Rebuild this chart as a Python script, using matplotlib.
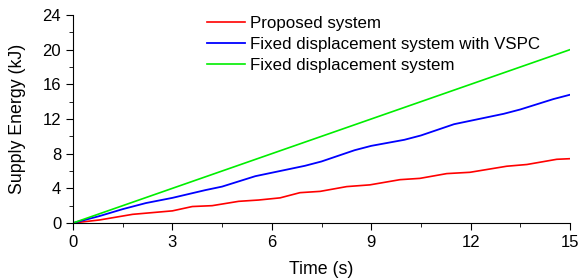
import matplotlib
matplotlib.use("Agg")
import matplotlib.pyplot as plt
from matplotlib.ticker import MultipleLocator

plt.rcParams['font.family'] = ['Liberation Sans', 'DejaVu Sans']

# Proposed system
t_prop = [0, 0.8, 1.8, 3.0, 3.6, 4.2, 5.0, 5.6, 6.25, 6.85, 7.46, 8.26, 8.96,
          9.87, 10.47, 11.28, 11.98, 13.09, 13.7, 14.6, 15]
e_prop = [0, 0.35, 1.0, 1.4, 1.9, 2.0, 2.5, 2.65, 2.9, 3.5, 3.65, 4.2, 4.4,
          5.0, 5.15, 5.7, 5.85, 6.55, 6.75, 7.35, 7.42]

# Fixed displacement system with VSPC
t_vspc = [0, 0.8, 1.5, 2.2, 3.0, 4.0, 4.5, 5.5, 6.0, 7.0, 7.5, 8.5, 9.0,
          10.0, 10.5, 11.5, 12.0, 13.0, 13.5, 14.5, 15]
e_vspc = [0, 0.8, 1.6, 2.3, 2.9, 3.8, 4.2, 5.4, 5.8, 6.6, 7.1, 8.4, 8.9,
          9.6, 10.1, 11.4, 11.8, 12.6, 13.1, 14.3, 14.8]

# Fixed displacement system
t_fixed = [0, 15]
e_fixed = [0, 20]

fig = plt.figure(figsize=(5.79, 2.78), dpi=100)
ax = fig.add_axes([73 / 579, 55 / 278, 497 / 579, 208 / 278])

ax.plot(t_prop, e_prop, color='#ff0000', lw=1.2, label='Proposed system')
ax.plot(t_vspc, e_vspc, color='#0000ff', lw=1.3, label='Fixed displacement system with VSPC')
ax.plot(t_fixed, e_fixed, color='#00ee00', lw=1.2, label='Fixed displacement system')

ax.set_xlim(0, 15)
ax.set_ylim(0, 24)
ax.xaxis.set_major_locator(MultipleLocator(3))
ax.xaxis.set_minor_locator(MultipleLocator(1.5))
ax.yaxis.set_major_locator(MultipleLocator(4))
ax.yaxis.set_minor_locator(MultipleLocator(2))
ax.tick_params(which='major', direction='out', length=5, labelsize=12)
ax.tick_params(which='minor', direction='out', length=3)
ax.spines['top'].set_visible(False)
ax.spines['right'].set_visible(False)

ax.set_xlabel('Time (s)', fontsize=12.8, labelpad=8)
ax.set_ylabel('Supply Energy (kJ)', fontsize=12.8, labelpad=12)

ax.legend(loc='upper left', bbox_to_anchor=(0.256, 1.03), frameon=False,
          fontsize=12.2, handlelength=2.25, handletextpad=0.3, labelspacing=0.36,
          borderaxespad=0)

fig.savefig('out.png', dpi=100)
